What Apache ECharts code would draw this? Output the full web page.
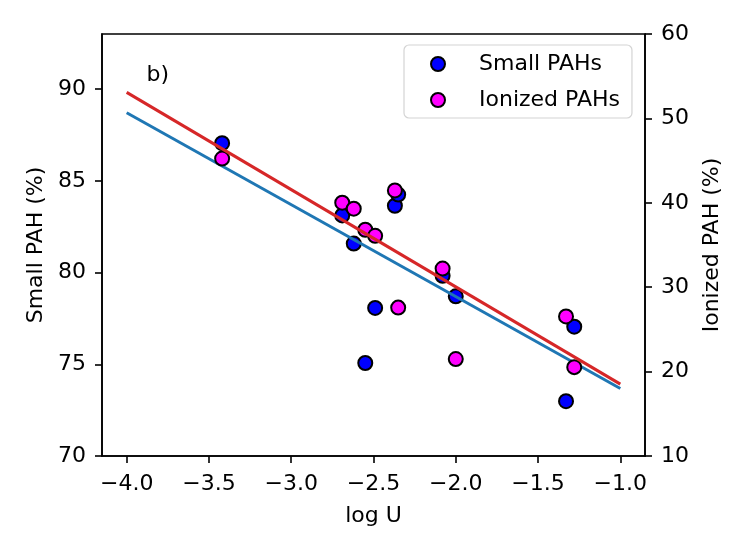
<!DOCTYPE html>
<html>
<head>
<meta charset="utf-8">
<script src="https://cdn.jsdelivr.net/npm/echarts@6/dist/echarts.min.js"></script>
<style>html,body{margin:0;padding:0;background:#fff}#c{width:747px;height:552px}</style>
</head>
<body>
<div id="c"></div>
<script>
// log U for each source
const logU = [-3.42, -2.69, -2.62, -2.55, -2.49, -2.37, -2.35, -2.08, -2.00, -1.33, -1.28];
// Small PAH (%) – left axis
const smallPAH = [87.05, 83.11, 81.58, 75.07, 78.07, 83.64, 84.25, 79.82, 78.70, 72.99, 77.05];
// Ionized PAH (%) – right axis
const ionizedPAH = [45.24, 40.01, 39.30, 36.81, 36.09, 41.47, 27.58, 32.21, 21.48, 26.54, 20.53];
// linear fits (endpoints at logU = -4 and -1)
const fitX = [-4.0, -1.0];
const fitSmall = [88.71, 73.68];
const fitIonized = [53.08, 18.52];
// ticks
const xTicks = [-4.0, -3.5, -3.0, -2.5, -2.0, -1.5, -1.0];
const yLeftTicks = [70, 75, 80, 85, 90];
const annotation = { x: -3.88, y: 90.35, text: 'b)' };

const F = 'DejaVu Sans';
const FS = 22;
const pair = (xs, ys) => xs.map((x, i) => [x, ys[i]]);
const fmtX = v => v.toFixed(1).replace('-', '\u2212');

const chart = echarts.init(document.getElementById('c'));
chart.setOption({
  animation: false,
  backgroundColor: '#fff',
  textStyle: { fontFamily: F },
  grid: { left: 102, right: 102, top: 34, bottom: 96, show: true, borderColor: '#000', borderWidth: 1.6, backgroundColor: 'transparent' },
  legend: {
    data: ['Small PAHs', 'Ionized PAHs'],
    orient: 'vertical',
    left: 404, top: 45,
    padding: [7, 12, 6, 26],
    itemGap: 12,
    itemWidth: 14, itemHeight: 14,
    icon: 'circle',
    borderColor: '#d4d4d4', borderWidth: 1.2, borderRadius: 5,
    backgroundColor: 'rgba(255,255,255,0.8)',
    textStyle: { fontFamily: F, fontSize: FS, color: '#000', lineHeight: 24, padding: [0, 0, 0, 29] },
    z: 20
  },
  xAxis: {
    type: 'value', min: -4.15, max: -0.85,
    name: 'log U', nameLocation: 'middle', nameGap: 49,
    nameTextStyle: { fontFamily: F, fontSize: FS, color: '#000' },
    axisLine: { show: true, onZero: false, lineStyle: { color: '#000', width: 1.6 } },
    axisTick: { show: true, length: 7, lineStyle: { color: '#000', width: 1.6 }, customValues: xTicks },
    axisLabel: { fontFamily: F, fontSize: FS, color: '#000', margin: 17, customValues: xTicks, formatter: fmtX },
    splitLine: { show: false }
  },
  yAxis: [{
    type: 'value', min: 70, max: 93, position: 'left',
    name: 'Small PAH (%)', nameLocation: 'middle', nameGap: 55, nameRotate: 90,
    nameTextStyle: { fontFamily: F, fontSize: FS, color: '#000' },
    axisLine: { show: true, lineStyle: { color: '#000', width: 1.6 } },
    axisTick: { show: true, length: 7, lineStyle: { color: '#000', width: 1.6 }, customValues: yLeftTicks },
    axisLabel: { fontFamily: F, fontSize: FS, color: '#000', margin: 16, customValues: yLeftTicks },
    splitLine: { show: false }
  }, {
    type: 'value', min: 10, max: 60, interval: 10, position: 'right',
    name: 'Ionized PAH (%)', nameLocation: 'middle', nameGap: 56, nameRotate: 90,
    nameTextStyle: { fontFamily: F, fontSize: FS, color: '#000' },
    axisLine: { show: true, lineStyle: { color: '#000', width: 1.6 } },
    axisTick: { show: true, length: 7, lineStyle: { color: '#000', width: 1.6 } },
    axisLabel: { fontFamily: F, fontSize: FS, color: '#000', margin: 16 },
    splitLine: { show: false }
  }],
  series: [{
    name: 'Small PAHs', type: 'scatter', yAxisIndex: 0, z: 2,
    data: pair(logU, smallPAH), symbolSize: 14,
    itemStyle: { color: '#0000ff', borderColor: '#000', borderWidth: 2, opacity: 1 }
  }, {
    name: 'fitSmall', type: 'line', yAxisIndex: 0, z: 3,
    data: pair(fitX, fitSmall), showSymbol: false, symbol: 'none',
    lineStyle: { color: '#1f77b4', width: 3 }
  }, {
    name: 'Ionized PAHs', type: 'scatter', yAxisIndex: 1, z: 4,
    data: pair(logU, ionizedPAH), symbolSize: 14,
    itemStyle: { color: '#ff00ff', borderColor: '#000', borderWidth: 2, opacity: 1 }
  }, {
    name: 'fitIonized', type: 'line', yAxisIndex: 1, z: 5,
    data: pair(fitX, fitIonized), showSymbol: false, symbol: 'none',
    lineStyle: { color: '#d62728', width: 3 }
  }, {
    name: 'annot', type: 'scatter', yAxisIndex: 0, z: 6, silent: true,
    data: [[annotation.x, annotation.y]], symbolSize: 0,
    itemStyle: { color: '#000', opacity: 1 },
    label: { show: true, formatter: annotation.text, position: [0, 0], align: 'left', verticalAlign: 'bottom',
      fontFamily: F, fontSize: FS, color: '#000', opacity: 1, offset: [0, 4] }
  }]
});
</script>
</body>
</html>
